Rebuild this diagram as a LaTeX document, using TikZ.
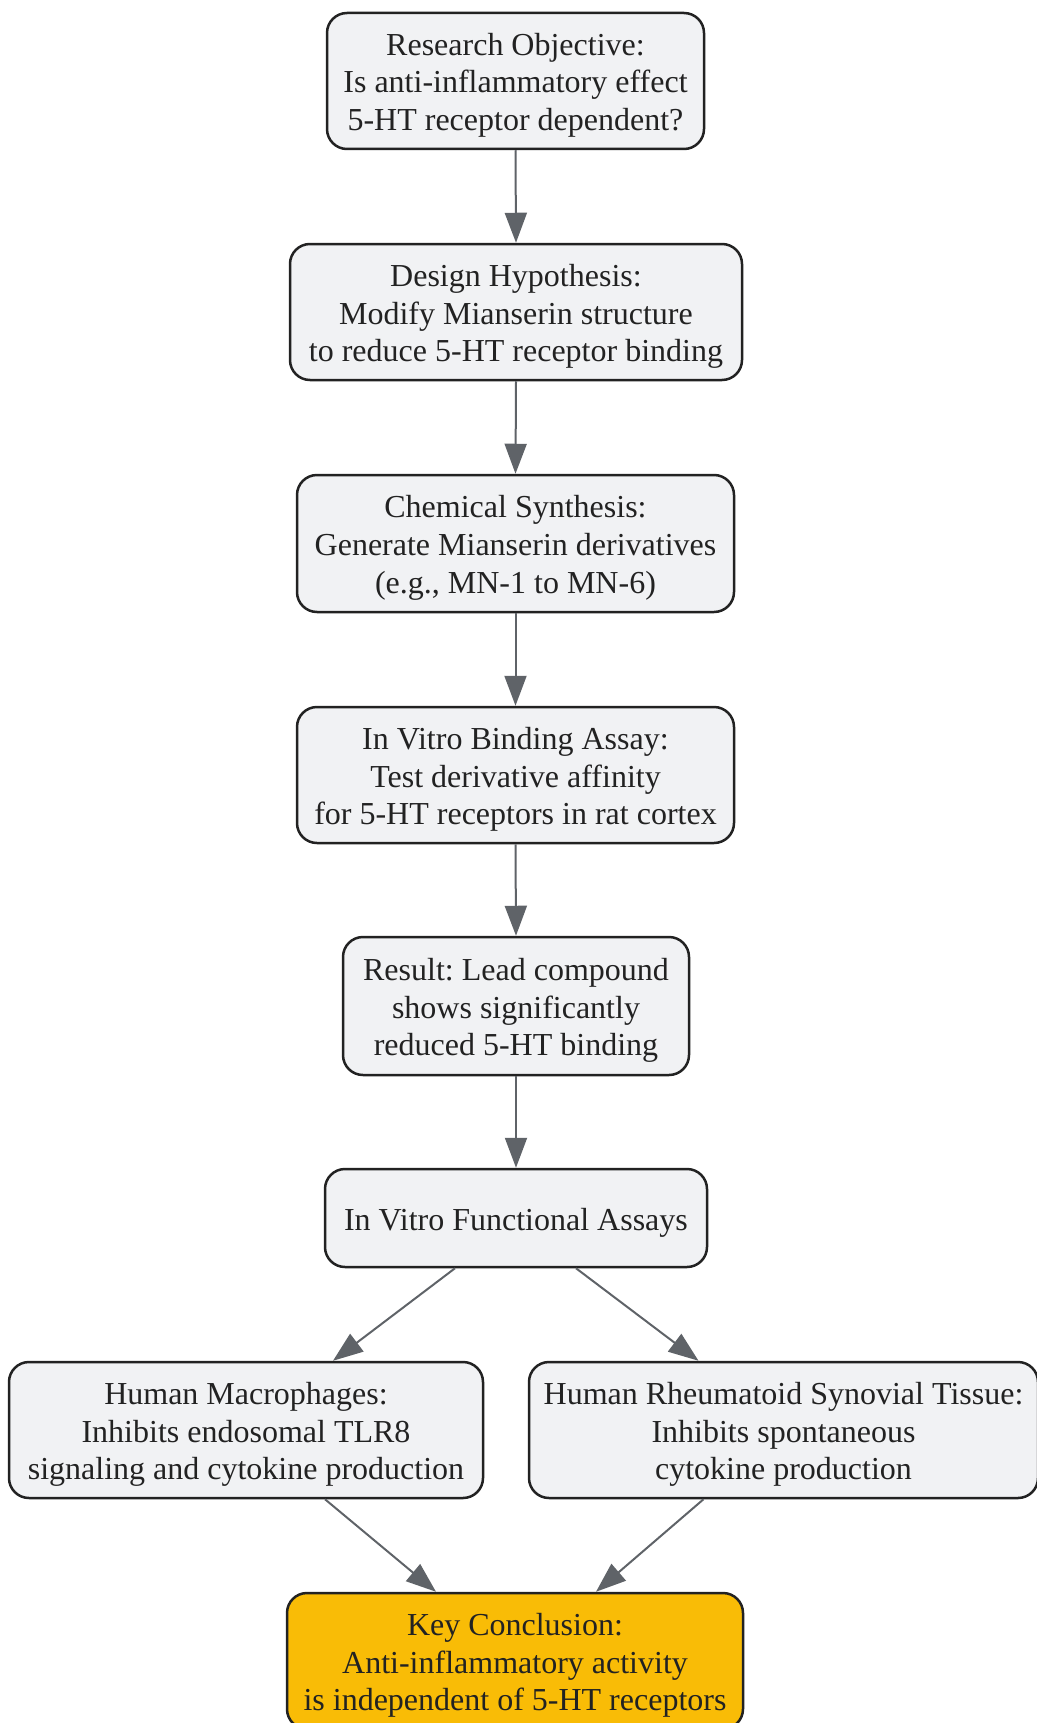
\documentclass[tikz,border=0pt]{standalone}
\usepackage{fontspec}
\setmainfont{Liberation Serif}
\usetikzlibrary{arrows.meta}
\definecolor{boxfill}{RGB}{241,242,244}
\definecolor{boxline}{RGB}{34,34,34}
\definecolor{edgegray}{RGB}{95,99,104}
\definecolor{keyfill}{RGB}{249,188,6}
\definecolor{txt}{RGB}{34,34,34}
\newcommand{\topstrut}{\rule{0pt}{33pt}}
\newcommand{\botstrut}{\rule[-9pt]{0pt}{9pt}}
\begin{document}
\begin{tikzpicture}[x=1pt,y=-1pt,
  box/.style={draw=boxline, line width=2.5pt, fill=boxfill, rounded corners=20pt,
    align=center, inner sep=0pt, text=txt,
    font=\fontsize{32}{37.9}\selectfont\frenchspacing},
  keybox/.style={box, fill=keyfill},
  flow/.style={draw=edgegray, line width=2pt, -{Triangle[length=30pt,width=22pt]}}
]
\useasboundingbox (0,0) rectangle (1036,1723);
\node[box, minimum width=377pt, minimum height=136pt] (n1) at (515.5,81)
  {\topstrut Research Objective:\\Is anti-inflammatory effect\\5-HT receptor dependent?\botstrut};
\node[box, minimum width=452pt, minimum height=136pt] (n2) at (516,312)
  {\topstrut Design Hypothesis:\\Modify Mianserin structure\\to reduce 5-HT receptor binding\botstrut};
\node[box, minimum width=437pt, minimum height=137pt] (n3) at (515.5,543.5)
  {\topstrut Chemical Synthesis:\\Generate Mianserin derivatives\\(e.g., MN-1 to MN-6)\botstrut};
\node[box, minimum width=437pt, minimum height=136pt] (n4) at (515.5,775)
  {\topstrut In Vitro Binding Assay:\\Test derivative affinity\\for 5-HT receptors in rat cortex\botstrut};
\node[box, minimum width=346pt, minimum height=138pt] (n5) at (516,1006)
  {\topstrut Result: Lead compound\\shows significantly\\reduced 5-HT binding\botstrut};
\node[box, minimum width=382pt, minimum height=98pt] (n6) at (516,1218)
  {\topstrut In Vitro Functional Assays\botstrut};
\node[box, minimum width=474pt, minimum height=136pt] (n7) at (246,1430)
  {\topstrut Human Macrophages:\\Inhibits endosomal TLR8\\signaling and cytokine production\botstrut};
\node[box, minimum width=509pt, minimum height=136pt] (n8) at (783.5,1430)
  {\topstrut Human Rheumatoid Synovial Tissue:\\Inhibits spontaneous\\cytokine production\botstrut};
\node[keybox, minimum width=456pt, minimum height=136pt] (n9) at (515,1661)
  {\topstrut Key Conclusion:\\Anti-inflammatory activity\\is independent of 5-HT receptors\botstrut};

\draw[flow] (n1.south) -- (n2.north);
\draw[flow] (n2.south) -- (n3.north);
\draw[flow] (n3.south) -- (n4.north);
\draw[flow] (n4.south) -- (n5.north);
\draw[flow] (n5.south) -- (n6.north);
\draw[flow] ([xshift=-61pt]n6.south) -- ([xshift=87pt]n7.north);
\draw[flow] ([xshift=60pt]n6.south) -- ([xshift=-85pt]n8.north);
\draw[flow] ([xshift=79pt]n7.south) -- ([xshift=-79pt]n9.north);
\draw[flow] ([xshift=-80pt]n8.south) -- ([xshift=81pt]n9.north);
\end{tikzpicture}
\end{document}
